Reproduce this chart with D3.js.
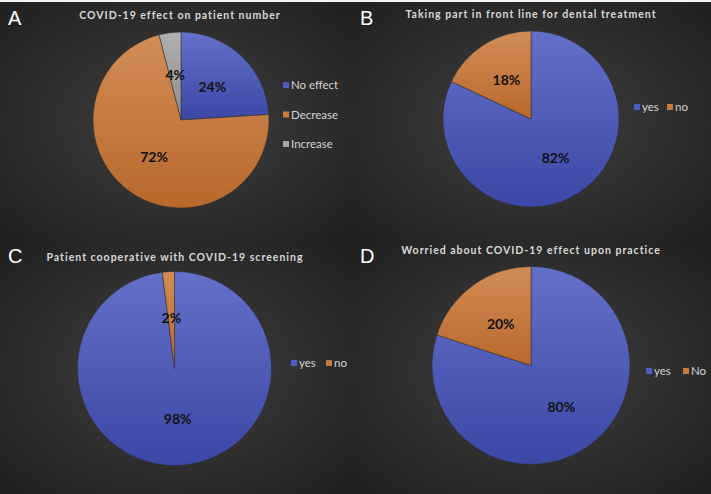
<!DOCTYPE html>
<html><head><meta charset="utf-8">
<script src="https://cdn.jsdelivr.net/npm/d3@7"></script>
<style>html,body{margin:0;padding:0;background:#fff;}svg{display:block;}</style>
</head><body>
<script>
// ---- data ----
const panelLetters = ["A", "B", "C", "D"];
const titles = [
  "COVID-19 effect on patient number",
  "Taking part in front line for dental treatment",
  "Patient cooperative with COVID-19 screening",
  "Worried about COVID-19 effect upon practice"
];
const catsA = ["No effect", "Decrease", "Increase"];
const valsA = [24, 72, 4];
const catsB = ["yes", "no"];
const valsB = [82, 18];
const catsC = ["yes", "no"];
const valsC = [98, 2];
const catsD = ["yes", "No"];
const valsD = [80, 20];

// ---- layout ----
const W = 711, H = 494;
const svg = d3.select("body").append("svg").attr("width", W).attr("height", H);
const defs = svg.append("defs");

const bg = defs.append("radialGradient").attr("id", "bg").attr("cx", "50%").attr("cy", "50%").attr("r", "70%");
bg.append("stop").attr("offset", "0%").attr("stop-color", "#404040");
bg.append("stop").attr("offset", "100%").attr("stop-color", "#202020");

const grads = {
  blue: ["#6470c8", "#3c47a6"],
  orange: ["#d28c55", "#b8692c"],
  gray: ["#b0b0b0", "#8c8c8c"]
};
Object.entries(grads).forEach(([k, c]) => {
  const g = defs.append("linearGradient").attr("id", "g_" + k).attr("x1", 0).attr("y1", 0).attr("x2", 0).attr("y2", 1);
  g.append("stop").attr("offset", "0%").attr("stop-color", c[0]);
  g.append("stop").attr("offset", "100%").attr("stop-color", c[1]);
});
const legendColors = { blue: "#4f5bc0", orange: "#c97a3e", gray: "#a6a6a6" };

svg.append("rect").attr("width", W).attr("height", H).attr("fill", "#f4f4f4");

const panels = [
  { x: 0, y: 2, w: 352, h: 240, cats: catsA, vals: valsA, keys: ["blue", "orange", "gray"],
    cx: 181, cy: 120, r: 88, tx: 180, ty: 19, legend: "v", lx: 283, ly: 85, ldy: 29.5 },
  { x: 352, y: 2, w: 359, h: 240, cats: catsB, vals: valsB, keys: ["blue", "orange"],
    cx: 531, cy: 119, r: 88, tx: 531, ty: 18, legend: "h", lx: 634, ly: 107, ldx: 33 },
  { x: 0, y: 242, w: 352, h: 252, cats: catsC, vals: valsC, keys: ["blue", "orange"],
    cx: 174.5, cy: 368.5, r: 97, tx: 175, ty: 261, legend: "h", lx: 291, ly: 363, ldx: 35 },
  { x: 352, y: 242, w: 359, h: 252, cats: catsD, vals: valsD, keys: ["blue", "orange"],
    cx: 531, cy: 365.5, r: 99, tx: 531, ty: 254, legend: "h", lx: 646, ly: 371, ldx: 37 }
];

panels.forEach((p, i) => {
  const g = svg.append("g");
  g.append("rect").attr("x", p.x).attr("y", p.y).attr("width", p.w).attr("height", p.h).attr("fill", "url(#bg)");

  // letter
  g.append("text").attr("x", p.x + 8).attr("y", p.y + (i < 2 ? 23 : 21))
    .attr("font-family", "Liberation Sans, Arial, sans-serif").attr("font-size", 20)
    .attr("fill", "#ffffff").text(panelLetters[i]);

  // title
  g.append("text").attr("x", p.tx).attr("y", p.ty).attr("text-anchor", "middle")
    .attr("font-family", "Lato, sans-serif").attr("font-weight", "bold").attr("font-size", 10.5)
    .attr("letter-spacing", 1).attr("fill", "#d9d9d9").text(titles[i]);

  // pie
  const pie = d3.pie().sort(null).value(d => d)(p.vals);
  const arc = d3.arc().innerRadius(0).outerRadius(p.r);
  const labelArc = d3.arc().innerRadius(p.r * 0.52).outerRadius(p.r * 0.52);
  const pg = g.append("g").attr("transform", `translate(${p.cx},${p.cy})`);
  pg.selectAll("path").data(pie).join("path")
    .attr("d", arc)
    .attr("fill", (d, j) => `url(#g_${p.keys[j]})`)
    .attr("stroke", "#2a2a2a").attr("stroke-width", 0.5);
  pg.selectAll("text").data(pie).join("text")
    .attr("transform", d => `translate(${labelArc.centroid(d)})`)
    .attr("text-anchor", "middle").attr("dy", "0.35em")
    .attr("font-family", "Lato, sans-serif").attr("font-weight", "bold").attr("font-size", 14)
    .attr("fill", "#111").text(d => d.data + "%");

  // legend
  p.cats.forEach((c, j) => {
    const x = p.legend === "v" ? p.lx : p.lx + j * p.ldx;
    const y = p.legend === "v" ? p.ly + j * p.ldy : p.ly;
    g.append("rect").attr("x", x).attr("y", y - 3).attr("width", 6).attr("height", 6)
      .attr("fill", legendColors[p.keys[j]]);
    g.append("text").attr("x", x + 8).attr("y", y).attr("dy", "0.35em")
      .attr("font-family", "Lato, sans-serif").attr("font-size", 11.5)
      .attr("fill", "#d4d4d4").text(c);
  });
});
</script>
</body></html>
